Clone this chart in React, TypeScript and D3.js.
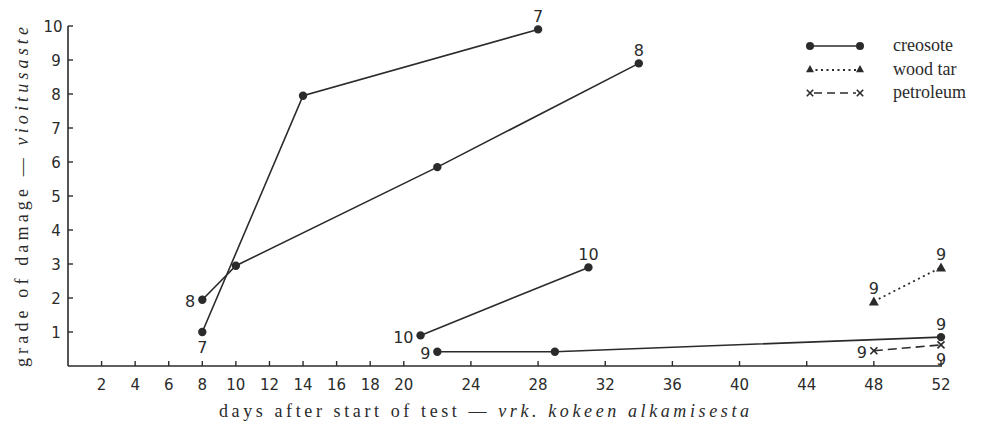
import React from "react";
import * as d3 from "d3";

const W = 991;
const H = 428;

// x tick labels (days)
const xTicks = [2, 4, 6, 8, 10, 12, 14, 16, 18, 20, 24, 28, 32, 36, 40, 44, 48, 52];
const yTicks = [1, 2, 3, 4, 5, 6, 7, 8, 9, 10];

// creosote series
const creoA_days = [8, 14, 28];
const creoA_vals = [1.0, 7.95, 9.9];
const creoB_days = [8, 10, 22, 34];
const creoB_vals = [1.95, 2.95, 5.85, 8.9];
const creoC_days = [21, 31];
const creoC_vals = [0.9, 2.9];
const creoD_days = [22, 29, 52];
const creoD_vals = [0.42, 0.42, 0.85];
// wood tar
const tar_days = [48, 52];
const tar_vals = [1.9, 2.9];
// petroleum
const petro_days = [48, 52];
const petro_vals = [0.45, 0.62];

// point labels (number of test pieces) at series start / end
const creoA_labels = ["7", "", "7"];
const creoB_labels = ["8", "", "", "8"];
const creoC_labels = ["10", "10"];
const creoD_labels = ["9", "", "9"];
const tar_labels = ["9", "9"];
const petro_labels = ["9", "9"];

const legendNames = ["creosote", "wood tar", "petroleum"];

const INK = "#2b2b2b";
const HAND = { fontFamily: '"DejaVu Sans"' };
const SERIF = { fontFamily: '"Liberation Serif"' };

export default function App() {
  const x = d3.scaleLinear().domain([0, 52]).range([68, 941]);
  const y = d3.scaleLinear().domain([0, 10]).range([366, 26]);

  const zip = (ds: number[], vs: number[]) => ds.map((d, i) => [d, vs[i]] as [number, number]);
  const line = d3.line<[number, number]>().x((p) => x(p[0])).y((p) => y(p[1]));

  const creo = [
    { pts: zip(creoA_days, creoA_vals), labels: creoA_labels, pos: ["below", "", "above"] },
    { pts: zip(creoB_days, creoB_vals), labels: creoB_labels, pos: ["left", "", "", "above"] },
    { pts: zip(creoC_days, creoC_vals), labels: creoC_labels, pos: ["left", "above"] },
    { pts: zip(creoD_days, creoD_vals), labels: creoD_labels, pos: ["left", "", "above"] },
  ];
  const tar = { pts: zip(tar_days, tar_vals), labels: tar_labels, pos: ["above", "above"] };
  const petro = { pts: zip(petro_days, petro_vals), labels: petro_labels, pos: ["left", "below"] };

  const labelEl = (txt: string, pos: string, px: number, py: number, key: string) => {
    if (!txt) return null;
    let tx = px, ty = py, anchor = "middle";
    if (pos === "above") { ty = py - 12; }
    else if (pos === "below") { ty = py + 16; }
    else if (pos === "left") { tx = px - 7; ty = py + 3; anchor = "end"; }
    return (
      <text key={key} x={tx} y={ty} textAnchor={anchor} dominantBaseline="middle"
        style={HAND} fontSize={16} fill={INK}>{txt}</text>
    );
  };

  const tri = (cx: number, cy: number, s = 5) =>
    `M${cx},${cy - s} L${cx + s},${cy + s * 0.8} L${cx - s},${cy + s * 0.8} Z`;
  const cross = (cx: number, cy: number, s = 3.5, k = "") => (
    <g key={k} stroke={INK} strokeWidth={1.6}>
      <line x1={cx - s} y1={cy - s} x2={cx + s} y2={cy + s} />
      <line x1={cx - s} y1={cy + s} x2={cx + s} y2={cy - s} />
    </g>
  );

  const legY = [46, 70, 93];
  const legX1 = 810, legX2 = 860, legTX = 893;

  return (
    <svg width={W} height={H} style={{ position: "absolute", left: 0, top: 0, background: "#fff" }}>
      {/* axes */}
      <line x1={x(0)} y1={y(0)} x2={x(52) + 1} y2={y(0)} stroke={INK} strokeWidth={1.6} />
      <line x1={x(0)} y1={y(0)} x2={x(0)} y2={y(10)} stroke={INK} strokeWidth={1.6} />
      {yTicks.map((t) => (
        <g key={"y" + t}>
          <line x1={x(0)} x2={x(0) + 5} y1={y(t)} y2={y(t)} stroke={INK} strokeWidth={1.4} />
          <text x={t === 10 ? 53 : 56} y={y(t) + 1} textAnchor="middle" dominantBaseline="middle"
            style={HAND} fontSize={15} fill={INK}>{t}</text>
        </g>
      ))}
      {xTicks.map((t) => (
        <g key={"x" + t}>
          <line x1={x(t)} x2={x(t)} y1={y(0)} y2={y(0) - 5} stroke={INK} strokeWidth={1.4} />
          <text x={x(t)} y={385} textAnchor="middle" dominantBaseline="middle"
            style={HAND} fontSize={15} fill={INK}>{t}</text>
        </g>
      ))}

      {/* axis titles */}
      <text x={219} y={417} style={SERIF} fontSize={18} fill={INK}
        textLength={530} lengthAdjust="spacing">
        days after start of test — <tspan fontStyle="italic">vrk. kokeen alkamisesta</tspan>
      </text>
      <text transform="translate(28,367) rotate(-90)" style={SERIF} fontSize={18} fill={INK}
        textLength={340} lengthAdjust="spacing">
        grade of damage — <tspan fontStyle="italic">vioitusaste</tspan>
      </text>

      {/* creosote */}
      {creo.map((s, si) => (
        <g key={"c" + si}>
          <path d={line(s.pts) || ""} fill="none" stroke={INK} strokeWidth={1.6} />
          {s.pts.map((p, i) => (
            <circle key={i} cx={x(p[0])} cy={y(p[1])} r={4.2} fill={INK} />
          ))}
          {s.pts.map((p, i) => labelEl(s.labels[i], s.pos[i], x(p[0]), y(p[1]), "l" + si + i))}
        </g>
      ))}

      {/* wood tar */}
      <path d={line(tar.pts) || ""} fill="none" stroke={INK} strokeWidth={1.8} strokeDasharray="2,3.5" />
      {tar.pts.map((p, i) => <path key={"t" + i} d={tri(x(p[0]), y(p[1]))} fill={INK} />)}
      {tar.pts.map((p, i) => labelEl(tar.labels[i], tar.pos[i], x(p[0]), y(p[1]), "tl" + i))}

      {/* petroleum */}
      <path d={line(petro.pts) || ""} fill="none" stroke={INK} strokeWidth={1.6} strokeDasharray="9,5" />
      {petro.pts.map((p, i) => cross(x(p[0]), y(p[1]), 3.5, "p" + i))}
      {petro.pts.map((p, i) => labelEl(petro.labels[i], petro.pos[i], x(p[0]), y(p[1]), "pl" + i))}

      {/* legend */}
      <g>
        <line x1={legX1} x2={legX2} y1={legY[0]} y2={legY[0]} stroke={INK} strokeWidth={1.6} />
        <circle cx={legX1} cy={legY[0]} r={4} fill={INK} />
        <circle cx={legX2} cy={legY[0]} r={4} fill={INK} />
        <line x1={legX1} x2={legX2} y1={legY[1]} y2={legY[1]} stroke={INK} strokeWidth={1.8} strokeDasharray="2,3.5" />
        <path d={tri(legX1, legY[1] - 1, 4)} fill={INK} />
        <path d={tri(legX2, legY[1] - 1, 4)} fill={INK} />
        <line x1={legX1 + 4} x2={legX2 - 4} y1={legY[2]} y2={legY[2]} stroke={INK} strokeWidth={1.6} strokeDasharray="8,5" />
        {cross(legX1, legY[2], 3.2, "lc1")}
        {cross(legX2, legY[2], 3.2, "lc2")}
        {legendNames.map((n, i) => (
          <text key={n} x={legTX} y={legY[i] + 5} style={SERIF} fontSize={18} fill={INK}>{n}</text>
        ))}
      </g>
    </svg>
  );
}
